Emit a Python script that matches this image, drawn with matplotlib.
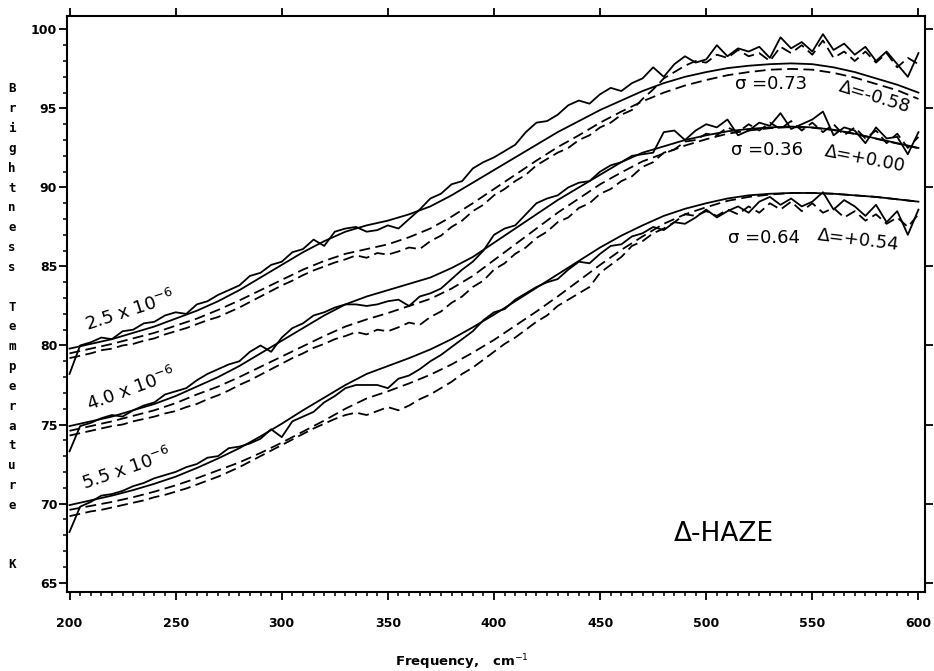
#Brightness temperature spectra, Delta-haze model comparison

import numpy as np
import matplotlib.pyplot as plt
from matplotlib.ticker import MultipleLocator

freq_s = np.arange(200, 601, 10)  #grid of the smooth model curves
freq_j = np.arange(200, 601, 5)   #grid of the jagged spectra

#group 1 (2.5 x 10^-6)
s1 = [79.8, 80.1, 80.4, 80.8, 81.2, 81.7, 82.2, 82.8, 83.5, 84.3, 85.1, 85.9, 86.6, 87.2, 87.6, 87.9,
      88.3, 88.8, 89.5, 90.3, 91.1, 91.9, 92.7, 93.5, 94.2, 94.9, 95.5, 96.1, 96.6, 97.0, 97.3, 97.55,
      97.7, 97.8, 97.85, 97.8, 97.6, 97.3, 96.9, 96.5, 96.0]
d1 = [79.5, 79.8, 80.1, 80.45, 80.8, 81.25, 81.7, 82.25, 82.85, 83.5, 84.15, 84.8, 85.35, 85.8, 86.1,
      86.4, 86.85, 87.4, 88.15, 89.0, 89.9, 90.8, 91.7, 92.55, 93.3, 94.1, 94.8, 95.45, 96.0, 96.45,
      96.8, 97.1, 97.3, 97.45, 97.5, 97.45, 97.25, 96.95, 96.55, 96.15, 95.6]
j1 = [78.2, 80.0, 80.2, 80.5, 80.4, 80.9, 81.0, 81.4, 81.5, 81.9, 82.1, 82.0, 82.6, 82.8, 83.2, 83.5,
      83.8, 84.4, 84.6, 85.1, 85.3, 85.9, 86.1, 86.7, 86.3, 87.2, 87.4, 87.5, 87.2, 87.3, 87.6, 87.4,
      88.0, 88.6, 89.3, 89.6, 90.2, 90.4, 91.2, 91.6, 91.9, 92.3, 92.7, 93.5, 94.1, 94.2, 94.6, 95.2,
      95.5, 95.3, 95.9, 96.3, 96.1, 96.6, 96.9, 97.6, 97.0, 97.8, 98.3, 97.9, 98.1, 99.0, 98.3, 98.8,
      98.6, 98.9, 98.2, 99.5, 98.8, 99.2, 98.6, 99.7, 98.7, 99.1, 98.4, 98.9, 98.0, 98.6, 97.8, 97.0,
      98.5]
k1 = [79.2, 79.35, 79.5, 79.7, 79.8, 80.0, 80.1, 80.3, 80.45, 80.7, 80.9, 81.1, 81.35, 81.6, 81.8,
      82.1, 82.4, 82.75, 83.1, 83.45, 83.8, 84.1, 84.45, 84.75, 85.0, 85.25, 85.45, 85.7, 85.55, 85.85,
      85.75, 85.95, 86.2, 86.1, 86.6, 86.95, 87.5, 87.9, 88.5, 88.9, 89.5, 89.9, 90.4, 90.8, 91.4, 91.8,
      92.2, 92.5, 93.0, 93.3, 93.8, 94.1, 94.6, 94.9, 95.6, 96.2, 96.9, 97.3, 97.7, 98.0, 97.9, 98.4,
      98.2, 98.7, 98.3, 98.5, 98.0, 98.9, 98.5, 99.0, 98.4, 99.3, 98.2, 98.6, 98.0, 98.6, 97.9, 98.5,
      97.6, 98.2, 97.8]

#group 2 (4.0 x 10^-6)
s2 = [74.9, 75.2, 75.5, 75.9, 76.3, 76.8, 77.4, 78.0, 78.7, 79.5, 80.3, 81.1, 81.9, 82.6, 83.1, 83.5,
      83.9, 84.3, 84.9, 85.6, 86.5, 87.4, 88.3, 89.2, 90.0, 90.8, 91.6, 92.2, 92.6, 93.0, 93.3, 93.55,
      93.7, 93.8, 93.85, 93.8, 93.65, 93.4, 93.1, 92.8, 92.5]
d2 = [74.6, 74.9, 75.2, 75.55, 75.9, 76.35, 76.9, 77.4, 78.0, 78.65, 79.3, 79.95, 80.6, 81.2, 81.65,
      82.05, 82.5, 82.95, 83.6, 84.4, 85.4, 86.4, 87.4, 88.4, 89.3, 90.2, 90.95, 91.65, 92.15, 92.65,
      93.05, 93.4, 93.6, 93.75, 93.82, 93.78, 93.63, 93.38, 93.08, 92.78, 92.48]
j2 = [73.3, 74.9, 75.1, 75.4, 75.6, 75.5, 75.9, 76.2, 76.4, 76.9, 77.1, 77.3, 77.8, 78.2, 78.5, 78.8,
      79.0, 79.6, 80.0, 79.6, 80.5, 81.1, 81.4, 81.9, 82.1, 82.4, 82.6, 82.6, 82.5, 82.6, 82.8, 82.9,
      82.5, 83.1, 83.3, 83.6, 84.2, 84.8, 85.3, 86.0, 87.0, 87.4, 87.6, 88.3, 89.0, 89.3, 89.5, 90.0,
      90.3, 90.4, 91.0, 91.4, 91.6, 92.0, 92.1, 92.2, 93.5, 93.6, 93.0, 93.6, 94.0, 93.8, 94.3, 93.3,
      93.6, 94.1, 93.9, 94.7, 93.7, 94.0, 94.3, 94.8, 93.3, 93.8, 93.6, 92.8, 93.8, 93.1, 93.2, 92.1,
      93.5]
k2 = [74.3, 74.45, 74.6, 74.75, 74.9, 75.0, 75.2, 75.35, 75.5, 75.7, 75.85, 76.1, 76.3, 76.6, 76.85,
      77.15, 77.5, 77.8, 78.15, 78.5, 78.85, 79.2, 79.5, 79.85, 80.1, 80.4, 80.6, 80.85, 80.7, 81.0,
      80.9, 81.15, 81.45, 81.3, 81.8, 82.15, 82.7, 83.1, 83.7, 84.1, 84.8, 85.2, 85.8, 86.2, 86.8, 87.2,
      87.8, 88.1, 88.7, 89.0, 89.6, 89.9, 90.4, 90.7, 91.3, 91.6, 92.2, 92.4, 92.9, 93.0, 93.4, 93.3,
      93.8, 93.5, 94.0, 93.6, 94.1, 93.7, 94.2, 93.6, 94.1, 93.5, 94.0, 93.3, 93.8, 93.1, 93.6, 92.8,
      93.4, 92.5, 93.2]

#group 3 (5.5 x 10^-6)
s3 = [69.9, 70.2, 70.5, 70.85, 71.25, 71.7, 72.25, 72.85, 73.5, 74.25, 75.05, 75.9, 76.7, 77.5, 78.2,
      78.7, 79.2, 79.75, 80.4, 81.15, 81.95, 82.8, 83.65, 84.5, 85.35, 86.2, 86.95, 87.6, 88.2, 88.65,
      89.0, 89.3, 89.5, 89.6, 89.65, 89.65, 89.6, 89.5, 89.4, 89.25, 89.1]
d3 = [69.6, 69.85, 70.1, 70.4, 70.75, 71.15, 71.6, 72.1, 72.6, 73.2, 73.85, 74.55, 75.25, 76.0, 76.65,
      77.1, 77.6, 78.15, 78.8, 79.55, 80.35, 81.25, 82.15, 83.1, 84.1, 85.1, 86.05, 86.9, 87.7, 88.3,
      88.75, 89.15, 89.4, 89.55, 89.65, 89.65, 89.6, 89.5, 89.4, 89.25, 89.1]
j3 = [68.2, 69.8, 70.1, 70.5, 70.6, 70.8, 71.1, 71.3, 71.6, 71.8, 72.0, 72.3, 72.5, 72.9, 73.0, 73.5,
      73.6, 73.8, 74.1, 74.7, 74.2, 75.2, 75.5, 75.8, 76.4, 76.8, 77.3, 77.5, 77.5, 77.5, 77.3, 77.9,
      78.1, 78.5, 79.0, 79.4, 79.9, 80.4, 80.9, 81.6, 82.1, 82.3, 82.9, 83.3, 83.7, 84.0, 84.2, 84.8,
      85.3, 85.2, 85.8, 86.3, 86.4, 86.9, 87.1, 87.5, 87.3, 87.8, 87.7, 88.1, 88.6, 88.1, 88.5, 88.8,
      88.4, 89.1, 89.4, 88.9, 89.3, 88.8, 89.1, 89.7, 88.6, 89.2, 88.8, 88.2, 88.9, 87.8, 88.5, 87.0,
      88.6]
k3 = [69.2, 69.35, 69.5, 69.6, 69.75, 69.9, 70.05, 70.2, 70.4, 70.55, 70.75, 70.95, 71.2, 71.45, 71.7,
      72.0, 72.3, 72.65, 73.0, 73.35, 73.7, 74.05, 74.4, 74.75, 75.05, 75.35, 75.6, 75.75, 75.6, 75.85,
      76.1, 75.9, 76.2, 76.6, 76.9, 77.3, 77.7, 78.2, 78.6, 79.1, 79.6, 80.1, 80.5, 81.0, 81.5, 81.9,
      82.5, 82.9, 83.3, 83.7, 84.6, 85.1, 85.6, 86.3, 86.6, 87.1, 87.4, 87.8, 88.3, 88.2, 88.5, 88.2,
      88.6, 88.3, 88.8, 88.4, 89.0, 88.6, 89.1, 88.5, 89.0, 88.4, 88.7, 88.1, 88.5, 87.9, 88.3, 87.7,
      88.1, 87.5, 88.3]

concentrations = ['2.5 x 10$^{-6}$', '4.0 x 10$^{-6}$', '5.5 x 10$^{-6}$']
sigmas = ['\u03c3 =0.73', '\u03c3 =0.36', '\u03c3 =0.64']
deltas = ['\u0394=-0.58', '\u0394=+0.00', '\u0394=+0.54']

fig = plt.figure(figsize=(9.34, 6.71), dpi=100)
ax = fig.add_axes([0.0717, 0.1177, 0.9187, 0.8585])

lw = 1.3
for s, d, j, k in [(s1, d1, j1, k1), (s2, d2, j2, k2), (s3, d3, j3, k3)]:
    ax.plot(freq_s, s, color='black', lw=lw)
    ax.plot(freq_s, d, color='black', lw=lw, dashes=(6, 3))
    ax.plot(freq_j, j, color='black', lw=lw)
    ax.plot(freq_j, k, color='black', lw=lw, dashes=(6, 3))

#labels of the curves
conc_pos = [(228.5, 82.2, 18), (229, 77.25, 20), (227, 72.2, 19)]
for txt, (x, y, r) in zip(concentrations, conc_pos):
    ax.text(x, y, txt, rotation=r, ha='center', va='center', fontsize=13,
            rotation_mode='anchor')
sig_pos = [(530.5, 96.55), (528.6, 92.4), (527, 86.8)]
for txt, (x, y) in zip(sigmas, sig_pos):
    ax.text(x, y, txt, ha='center', va='center', fontsize=13)
del_pos = [(579.5, 95.7, -17), (574.8, 91.8, -11), (571.5, 86.7, -7)]
for txt, (x, y, r) in zip(deltas, del_pos):
    ax.text(x, y, txt, rotation=r, ha='center', va='center', fontsize=13,
            rotation_mode='anchor')
ax.text(508.3, 68.1, '\u0394-HAZE', ha='center', va='center', fontsize=19)

ax.set_xlim(198.8, 603.1)
ax.set_ylim(64.4, 100.85)
ax.xaxis.set_major_locator(MultipleLocator(50))
ax.xaxis.set_minor_locator(MultipleLocator(5))
ax.yaxis.set_major_locator(MultipleLocator(5))
ax.yaxis.set_minor_locator(MultipleLocator(1))
ax.tick_params(which='major', direction='out', length=6, width=1.3,
               top=True, right=True, labelsize=9)
ax.tick_params(which='minor', direction='out', length=3, width=1.1,
               top=False, right=False)
ax.tick_params(axis='x', which='major', pad=12)
ax.tick_params(axis='y', which='major', pad=1)
for lab in ax.get_xticklabels() + ax.get_yticklabels():
    lab.set_fontweight('bold')
for sp in ax.spines.values():
    sp.set_linewidth(1.5)

#stacked y label, one letter per line
ylab = 'Brightness Temperature  K'
for i, ch in enumerate(ylab):
    fig.text(12 / 934, 1 - (89 + i * 19.83) / 671, ch, ha='center', va='center',
             fontsize=9, fontweight='bold', family='DejaVu Sans Mono')

fig.text(461.5 / 934, 1 - 662 / 671, 'Frequency,   cm$^{-1}$', ha='center', va='center',
         fontsize=9.5, fontweight='bold')

fig.savefig('out.png', dpi=100)
